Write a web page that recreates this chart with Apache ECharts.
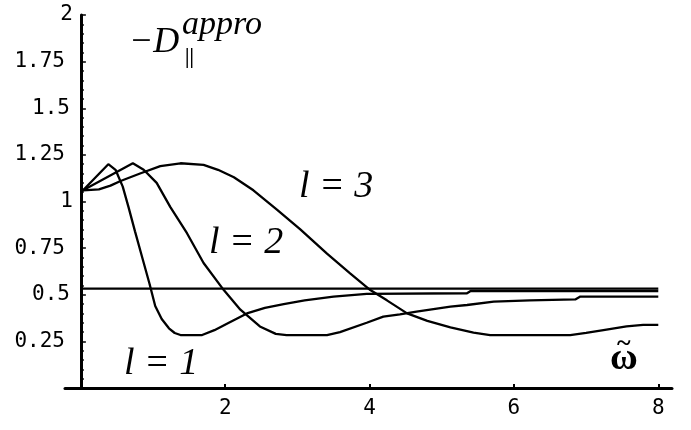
<!DOCTYPE html>
<html>
<head>
<meta charset="utf-8">
<script src="https://cdn.jsdelivr.net/npm/echarts@6/dist/echarts.min.js"></script>
<style>
  html, body { margin: 0; padding: 0; background: #fff; }
  #chart { width: 691px; height: 430px; }
</style>
</head>
<body>
<div id="chart"></div>
<script>
// Approximate -D_parallel versus reduced frequency for l = 1, 2, 3
const curveL1 = [
  [0.03, 1.06], [0.38, 1.20], [0.48, 1.17], [0.58, 1.08], [0.66, 0.97],
  [0.75, 0.84], [0.85, 0.70], [0.95, 0.56], [1.03, 0.44], [1.12, 0.37],
  [1.22, 0.32], [1.30, 0.295], [1.38, 0.284], [1.68, 0.284], [1.85, 0.31],
  [2.05, 0.35], [2.30, 0.40], [2.55, 0.43], [2.81, 0.45], [3.10, 0.47],
  [3.50, 0.49], [3.96, 0.505], [5.35, 0.508], [5.40, 0.52], [8.00, 0.52]
];
const curveL2 = [
  [0.03, 1.06], [0.72, 1.205], [0.87, 1.17], [1.05, 1.10], [1.24, 0.97],
  [1.47, 0.83], [1.70, 0.67], [1.98, 0.525], [2.21, 0.42], [2.48, 0.33],
  [2.70, 0.29], [2.85, 0.284], [3.41, 0.284], [3.59, 0.30], [3.96, 0.35],
  [4.19, 0.383], [4.42, 0.395], [4.65, 0.41], [5.12, 0.436], [5.35, 0.445],
  [5.72, 0.463], [6.22, 0.47], [6.85, 0.475], [6.92, 0.49], [8.00, 0.49]
];
const curveL3 = [
  [0.03, 1.06], [0.25, 1.065], [0.41, 1.085], [0.55, 1.11], [0.82, 1.15],
  [1.10, 1.19], [1.38, 1.205], [1.70, 1.196], [1.90, 1.17], [2.12, 1.13],
  [2.39, 1.06], [2.72, 0.955], [3.04, 0.85], [3.41, 0.72], [3.73, 0.615],
  [4.01, 0.525], [4.24, 0.47], [4.52, 0.40], [4.80, 0.36], [5.12, 0.325],
  [5.44, 0.297], [5.67, 0.284], [6.78, 0.284], [7.00, 0.295], [7.24, 0.31],
  [7.56, 0.33], [7.79, 0.338], [8.00, 0.338]
];
// asymptotic level
const levelLine = [[0.0, 0.533], [8.0, 0.533]];

const xTicks = [2, 4, 6, 8];
const yLabels = ['0.25', '0.5', '0.75', '1', '1.25', '1.5', '1.75', '2'];

const tickFont = '"DejaVu Sans Mono", monospace';
const mathFont = '"Liberation Serif", "DejaVu Serif", serif';

function yLabel(v) {
  const s = yLabels.find(t => Math.abs(parseFloat(t) - v) < 1e-6);
  if (!s) return '';
  if (s.length >= 4) return '{p4|' + s + '}';
  if (s.length === 3) return '{p3|' + s + '}';
  return '{p1|' + s + '}';
}

const lineStyle = { color: '#000', width: 2.3 };
function curve(name, data) {
  return {
    name, type: 'line', data, showSymbol: false, symbol: 'none',
    lineStyle, silent: true, animation: false
  };
}

const chart = echarts.init(document.getElementById('chart'), null, { renderer: 'canvas' });
chart.setOption({
  backgroundColor: '#fff',
  animation: false,
  grid: { left: 65, top: 15, width: 607, height: 373, containLabel: false,
          outerBoundsMode: 'none' },
  xAxis: {
    type: 'value', min: -0.22, max: 8.19,
    axisLine: { show: true, onZero: true, lineStyle: { color: '#000', width: 3 } },
    axisTick: { show: true, inside: true, length: 4, customValues: xTicks,
                lineStyle: { color: '#000', width: 2 } },
    axisLabel: { show: true, customValues: xTicks, margin: 10,
                 fontFamily: tickFont, fontSize: 21, color: '#000' },
    splitLine: { show: false }
  },
  yAxis: {
    type: 'value', min: 0, max: 2, interval: 0.25,
    axisLine: { show: true, onZero: true, lineStyle: { color: '#000', width: 3 } },
    axisTick: { show: true, inside: true, length: 5, lineStyle: { color: '#000', width: 1.5 } },
    minorTick: { show: true, splitNumber: 5, length: 3, lineStyle: { color: '#000', width: 1.5 } },
    axisLabel: {
      show: true, margin: -8, showMinLabel: false,
      fontFamily: tickFont, fontSize: 21, color: '#000',
      formatter: yLabel,
      rich: {
        p4: { fontFamily: tickFont, fontSize: 21, color: '#000', padding: [0, 8, 0, 0] },
        p3: { fontFamily: tickFont, fontSize: 21, color: '#000', padding: [0, 3, 0, 0] },
        p1: { fontFamily: tickFont, fontSize: 21, color: '#000', padding: [0, 0, 0, 0] }
      }
    },
    splitLine: { show: false }
  },
  series: [
    curve('level', levelLine),
    curve('l = 1', curveL1),
    curve('l = 2', curveL2),
    curve('l = 3', curveL3)
  ],
  graphic: [
    { type: 'text', left: 129, top: 25,
      style: { text: '\u2212D', font: 'italic 36px ' + mathFont, fill: '#000' } },
    { type: 'text', left: 182, top: 8,
      style: { text: 'appro', font: 'italic 34px ' + mathFont, fill: '#000' } },
    { type: 'text', left: 185, top: 48,
      style: { text: '||', font: 'bold 20px ' + mathFont, fill: '#000' } },
    { type: 'text', left: 299, top: 168,
      style: { text: 'l = 3', font: 'italic 38px ' + mathFont, fill: '#000' } },
    { type: 'text', left: 209, top: 224,
      style: { text: 'l = 2', font: 'italic 38px ' + mathFont, fill: '#000' } },
    { type: 'text', left: 124, top: 345,
      style: { text: 'l = 1', font: 'italic 38px ' + mathFont, fill: '#000' } },
    { type: 'text', left: 610, top: 340,
      style: { text: '\u03C9', font: 'bold 38px ' + mathFont, fill: '#000' } },
    { type: 'text', left: 617, top: 331,
      style: { text: '~', font: 'bold 26px ' + mathFont, fill: '#000' } }
  ]
});
</script>
</body>
</html>
